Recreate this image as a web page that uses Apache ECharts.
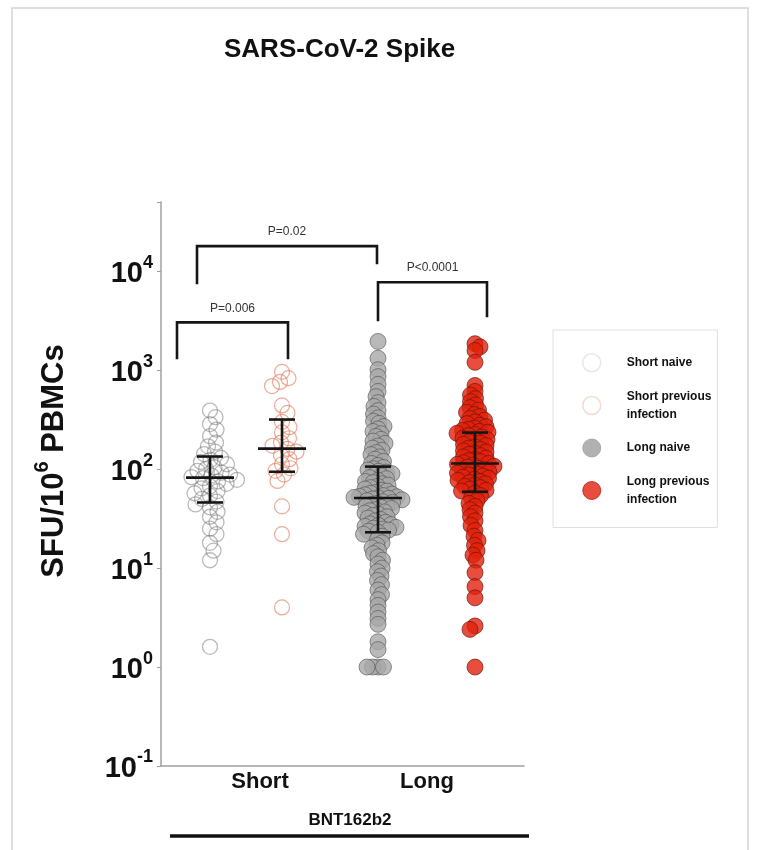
<!DOCTYPE html>
<html>
<head>
<meta charset="utf-8">
<script src="https://cdn.jsdelivr.net/npm/echarts@6/dist/echarts.min.js"></script>
<style>
  html, body { margin: 0; padding: 0; background: #fff; }
  #main { width: 757px; height: 850px; }
</style>
</head>
<body>
<div id="main"></div>
<script>
// data (SFU / 10^6 PBMCs)
const seriesNames = ['Short naive', 'Short previous infection', 'Long naive', 'Long previous infection'];
const xCategories = ['Short', 'Long'];
const groupTitle = 'BNT162b2';
const pLabels = ['P=0.006', 'P=0.02', 'P<0.0001'];

const shortNaive = [390, 335, 285, 250, 215, 185, 170, 150, 142, 130, 124, 118, 112, 104, 100, 96, 92, 88, 86, 83, 81,
  78, 75, 71, 67, 64, 60, 57, 54, 50, 47, 44, 41, 37, 33, 29, 25, 22, 18, 15, 12, 1.6];
const shortPrevious = [960, 830, 760, 690, 440, 370, 300, 265, 235, 205, 185, 172, 160, 150, 138, 126, 112, 102, 96, 88,
  76, 42, 22, 4];
const longNaive = [1950, 1320, 1010, 860, 720, 610, 540, 470, 430, 390, 360, 330, 305, 290, 270, 255, 240, 228, 214, 200,
  192, 182, 171, 163, 155, 147, 140, 133, 126, 120, 114, 109,
  104, 101, 98, 95, 93, 90, 87, 85, 82, 80, 77, 75, 73, 71, 69, 67, 65, 63, 61, 60, 58, 57, 56, 55, 54, 53, 52.5, 51.8, 51.2, 50.6,
  50, 49, 48, 47, 46, 45, 44, 43, 42, 41, 40, 39, 38, 37, 36, 35, 34, 33, 32, 31, 30, 29, 28, 27.5, 27, 26.4, 25.8, 25.3, 24.8, 24.2, 23.6, 23,
  22, 21, 19.5, 18, 17, 16, 15, 14, 13, 12, 11, 10, 9.2, 8.3, 7.5, 6.8, 6, 5.4, 4.8, 4.2, 3.6, 3.1, 2.7, 1.8, 1.5, 1, 1, 1, 1];
const longPrevious = [1850, 1720, 1580, 1200, 700, 610, 560, 515, 480, 445, 418, 395, 375, 356, 340, 325, 312, 300, 288,
  278, 268, 260, 252, 246, 240, 236,
  230, 224, 218, 211, 205, 199, 194, 188, 183, 178, 173, 168, 163, 158, 153, 149, 145, 141, 137, 133, 129, 125, 122, 119, 116, 114,
  112, 110, 107, 105, 102, 100, 98, 96, 93, 91, 89, 87, 85, 83, 81, 79, 77, 75, 73, 71, 69, 67, 65, 63, 61, 60,
  57, 54, 51, 48, 45, 42, 39, 36, 33, 30, 27, 24, 21, 19, 17, 15, 13.5, 12, 9, 6.5, 5, 2.6, 2.4, 1];

// median and interquartile range drawn on each column
const medians = [82, 161, 51, 114];
const q1 = [46, 94, 23, 59];
const q3 = [134, 317, 106, 234];

// layout (x in grid pixels from the y axis)
const X_MAX = 363;
const groupX = [49, 121, 217, 314];
const xLabelPos = [99, 266];
const swarmDist = [8.5, 9, 5.5, 5.8];
// [x1, x2, top, leftFoot, rightFoot] for the significance brackets
const brackets = [
  [16, 127, 3040, 1290, 1290],
  [36, 216, 17900, 7390, 11770],
  [217, 326, 7740, 3120, 3420]
];

const FONT = '"Liberation Sans", Arial, sans-serif';
const groups = [shortNaive, shortPrevious, longNaive, longPrevious];

const pointStyles = [
  { color: 'rgba(255,255,255,0)', borderColor: 'rgba(110,110,110,0.6)', borderWidth: 1.3 },
  { color: 'rgba(255,255,255,0)', borderColor: 'rgba(222,105,70,0.7)', borderWidth: 1.2 },
  { color: '#a8a8a8', borderColor: 'rgba(80,80,80,0.75)', borderWidth: 1 },
  { color: '#e1220c', borderColor: 'rgba(110,20,10,0.85)', borderWidth: 1 }
];
const legendStyles = [
  { color: '#fff', borderColor: '#e2e2e2', borderWidth: 1.5 },
  { color: '#fff', borderColor: '#f1d2c8', borderWidth: 1.5 },
  { color: '#9d9d9d', borderColor: '#9d9d9d', borderWidth: 1 },
  { color: '#e3200c', borderColor: '#b8180a', borderWidth: 1 }
];

const chart = echarts.init(document.getElementById('main'));

const baseOption = {
  animation: false,
  backgroundColor: '#fff',
  textStyle: { fontFamily: FONT },
  title: {
    text: 'SARS-CoV-2 Spike',
    left: 224,
    top: 37,
    padding: 0,
    textStyle: { fontFamily: FONT, fontSize: 26, fontWeight: 'bold', color: '#111' }
  },
  grid: { left: 161, top: 202, width: X_MAX, height: 564 },
  xAxis: {
    type: 'value',
    min: 0,
    max: X_MAX,
    axisLine: { onZero: false, lineStyle: { color: '#a0a0a0', width: 1.5 } },
    axisTick: { show: false },
    splitLine: { show: false },
    axisLabel: {
      customValues: xLabelPos,
      formatter: v => xCategories[xLabelPos.indexOf(v)] || '',
      fontFamily: FONT,
      fontSize: 22,
      fontWeight: 'bold',
      color: '#111',
      margin: 5
    }
  },
  yAxis: {
    type: 'log',
    logBase: 10,
    min: 0.1,
    max: 50000,
    axisLine: { show: true, lineStyle: { color: '#a0a0a0', width: 1.5 } },
    axisTick: { show: true, length: 4, lineStyle: { color: '#a0a0a0', width: 1 } },
    splitLine: { show: false },
    axisLabel: {
      margin: 8,
      formatter: v => {
        const e = Math.log10(v);
        if (Math.abs(e - Math.round(e)) > 1e-6) return '';
        return '{b|10}{s|' + Math.round(e) + '}';
      },
      rich: {
        b: { fontFamily: FONT, fontSize: 29, fontWeight: 'bold', color: '#111', lineHeight: 35, verticalAlign: 'bottom' },
        s: { fontFamily: FONT, fontSize: 18, fontWeight: 'bold', color: '#111', lineHeight: 18, verticalAlign: 'top' }
      }
    }
  },
  series: []
};
chart.setOption(baseOption);

// simple beeswarm: each point goes to the nearest free spot beside its column
function swarm(values, cx, dist) {
  const order = values.map((v, i) => i).sort((a, b) => values[b] - values[a]);
  const placed = [];
  const out = new Array(values.length);
  order.forEach((i, n) => {
    const py = chart.convertToPixel({ gridIndex: 0 }, [cx, values[i]])[1];
    const side = n % 2 ? 1 : -1;
    let dx = 0;
    for (let k = 0; k < 400; k++) {
      const cand = (k % 2 ? side : -side) * Math.ceil(k / 2) * 0.5;
      const hit = placed.some(p => Math.abs(p[1] - py) < dist &&
        (p[0] - cand) * (p[0] - cand) + (p[1] - py) * (p[1] - py) < dist * dist);
      if (!hit) { dx = cand; break; }
    }
    placed.push([dx, py]);
    out[i] = [cx + dx, values[i]];
  });
  return out;
}

const scatterSeries = groups.map((vals, g) => ({
  name: seriesNames[g],
  type: 'scatter',
  symbol: 'circle',
  symbolSize: g < 2 ? 15 : 16,
  itemStyle: pointStyles[g],
  z: 2,
  data: swarm(vals, groupX[g], swarmDist[g])
}));

const errorSeries = {
  type: 'custom',
  z: 5,
  silent: true,
  data: groupX.map((x, i) => [x, medians[i], q1[i], q3[i]]),
  renderItem: (params, api) => {
    const m = api.coord([api.value(0), api.value(1)]);
    const lo = api.coord([api.value(0), api.value(2)]);
    const hi = api.coord([api.value(0), api.value(3)]);
    const style = { stroke: '#151515', lineWidth: 2.6 };
    return {
      type: 'group',
      children: [
        { type: 'line', shape: { x1: m[0] - 24, y1: m[1], x2: m[0] + 24, y2: m[1] }, style },
        { type: 'line', shape: { x1: lo[0], y1: lo[1], x2: hi[0], y2: hi[1] }, style },
        { type: 'line', shape: { x1: lo[0] - 13, y1: lo[1], x2: lo[0] + 13, y2: lo[1] }, style },
        { type: 'line', shape: { x1: hi[0] - 13, y1: hi[1], x2: hi[0] + 13, y2: hi[1] }, style }
      ]
    };
  }
};

const bracketSeries = {
  type: 'custom',
  z: 5,
  silent: true,
  data: brackets,
  renderItem: (params, api) => {
    const a = api.coord([api.value(0), api.value(3)]);
    const b = api.coord([api.value(0), api.value(2)]);
    const c = api.coord([api.value(1), api.value(2)]);
    const d = api.coord([api.value(1), api.value(4)]);
    return {
      type: 'group',
      children: [
        { type: 'polyline', shape: { points: [a, b, c, d] }, style: { stroke: '#151515', lineWidth: 2.6, fill: null } },
        {
          type: 'text',
          style: {
            x: (b[0] + c[0]) / 2, y: b[1] - 14,
            text: pLabels[params.dataIndex],
            align: 'center', verticalAlign: 'middle',
            font: '12px ' + FONT, fill: '#333'
          }
        }
      ]
    };
  }
};

chart.setOption({
  legend: {
    orient: 'vertical',
    left: 553,
    top: 330,
    padding: [23, 6, 19, 29],
    itemGap: 15,
    itemWidth: 60,
    itemHeight: 18,
    icon: 'circle',
    selectedMode: false,
    borderColor: '#e0e0e0',
    borderWidth: 1,
    formatter: name => name.replace('previous ', 'previous\n'),
    textStyle: { fontFamily: FONT, fontSize: 12, fontWeight: 'bold', color: '#111', lineHeight: 18 },
    data: seriesNames.map((n, i) => ({ name: n, itemStyle: legendStyles[i] }))
  },
  series: scatterSeries.concat([errorSeries, bracketSeries]),
  graphic: [
    {
      type: 'rect',
      shape: { x: 12, y: 8, width: 736, height: 870 },
      style: { fill: null, stroke: '#d4d4d4', lineWidth: 1.5 },
      silent: true
    },
    {
      type: 'text',
      x: 51, y: 461,
      rotation: Math.PI / 2,
      style: {
        text: '{a|SFU/10}{s|6}{a| PBMCs}',
        align: 'center',
        verticalAlign: 'middle',
        rich: {
          a: { fontFamily: FONT, fontSize: 31, fontWeight: 'bold', fill: '#111', lineHeight: 37, verticalAlign: 'bottom' },
          s: { fontFamily: FONT, fontSize: 20, fontWeight: 'bold', fill: '#111', lineHeight: 20, verticalAlign: 'top' }
        }
      }
    },
    {
      type: 'text',
      x: 350, y: 820,
      style: { text: groupTitle, align: 'center', verticalAlign: 'middle', font: 'bold 17px ' + FONT, fill: '#111' }
    },
    {
      type: 'line',
      shape: { x1: 170, y1: 836, x2: 529, y2: 836 },
      style: { stroke: '#111', lineWidth: 3.5 }
    }
  ]
});
</script>
</body>
</html>
